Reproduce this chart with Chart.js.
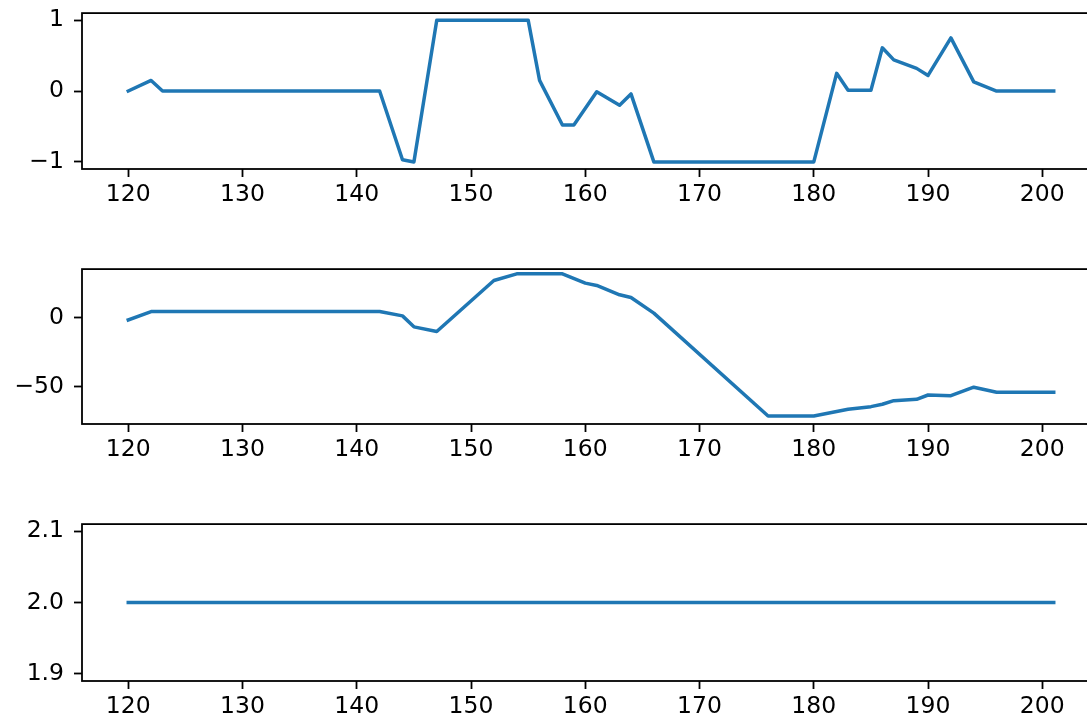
<!DOCTYPE html>
<html>
<head>
<meta charset="utf-8">
<script src="https://cdn.jsdelivr.net/npm/chart.js@4"></script>
<style>
  html, body { margin: 0; padding: 0; background: #fff; overflow: hidden; }
  body { width: 1087px; height: 721px; position: relative; }
  canvas { position: absolute; left: 0; }
</style>
</head>
<body>
<canvas id="c1" width="1100" height="230" style="top:-11px"></canvas>
<canvas id="c2" width="1100" height="229" style="top:245px"></canvas>
<canvas id="c3" width="1100" height="221" style="top:500px"></canvas>
<script>
// shared x ticks
const xTicks = [120, 130, 140, 150, 160, 170, 180, 190, 200];

// panel 1
const topX = [120, 122, 123, 142, 144, 145, 147, 155, 156, 158, 159, 161, 163, 164, 166, 180, 182, 183, 185, 186, 187, 189, 190, 192, 194, 196, 201];
const topY = [0, 0.15, 0, 0, -0.97, -1, 1, 1, 0.15, -0.48, -0.48, -0.01, -0.2, -0.04, -1, -1, 0.25, 0.01, 0.01, 0.61, 0.44, 0.32, 0.22, 0.75, 0.13, 0, 0];
const topTicks = [-1, 0, 1];

// panel 2
const midX = [120, 122, 142, 144, 145, 147, 152, 154, 158, 160, 161, 163, 164, 166, 176, 180, 183, 185, 186, 187, 189, 190, 192, 194, 196, 201];
const midY = [-1.7, 4.3, 4.3, 1.2, -6.7, -10.1, 26.7, 31.5, 31.5, 24.8, 23.1, 16.4, 14.4, 3.2, -70.9, -70.9, -66.1, -64.2, -62.5, -59.9, -58.9, -55.8, -56.3, -50.2, -53.8, -53.8];
const midTicks = [-50, 0];

// panel 3
const botX = [120, 201];
const botY = [2, 2];
const botTicks = [1.9, 2.0, 2.1];

const FONT = { family: "'DejaVu Sans'", size: 23.5 };

const frame = {
    id: "frame",
    afterDraw(chart) {
        const a = chart.chartArea;
        const c = chart.ctx;
        c.save();
        c.strokeStyle = "#000";
        c.lineWidth = 1.8;
        c.strokeRect(a.left, a.top, a.right - a.left + 20, a.bottom - a.top);
        c.restore();
    },
};

function fmt(v, digits) {
    return v.toFixed(digits).replace("-", "\u2212");
}

function drawPanel(id, xs, ys, yMin, yMax, yTicks, digits, xAxisHeight) {
    new Chart(document.getElementById(id), {
        type: "line",
        data: {
            datasets: [
                {
                    data: xs.map((x, i) => ({ x: x, y: ys[i] })),
                    borderColor: "#1f77b4",
                    borderWidth: 3.5,
                    borderCapStyle: "square",
                    borderJoinStyle: "round",
                    pointRadius: 0,
                    tension: 0,
                },
            ],
        },
        options: {
            responsive: false,
            animation: false,
            layout: { padding: { top: 13, left: 0, right: 0, bottom: 0 } },
            plugins: { legend: { display: false }, tooltip: { enabled: false } },
            scales: {
                x: {
                    type: "linear",
                    min: 115.95,
                    max: 205.05,
                    afterBuildTicks: (s) => { s.ticks = xTicks.map((v) => ({ value: v })); },
                    afterFit: (s) => { s.height = xAxisHeight; },
                    border: { display: false },
                    grid: { drawOnChartArea: false, drawTicks: true, tickLength: 8, tickWidth: 1.8, tickColor: "#000" },
                    ticks: { autoSkip: false, maxRotation: 0, color: "#000", font: FONT, padding: 4, callback: (v) => String(v) },
                },
                y: {
                    type: "linear",
                    min: yMin,
                    max: yMax,
                    afterBuildTicks: (s) => { s.ticks = yTicks.map((v) => ({ value: v })); },
                    afterFit: (s) => { s.width = 82; },
                    border: { display: false },
                    grid: { drawOnChartArea: false, drawTicks: true, tickLength: 8, tickWidth: 1.8, tickColor: "#000" },
                    ticks: { color: "#000", font: FONT, padding: 10, callback: (v) => fmt(v, digits) },
                },
            },
        },
        plugins: [frame],
    });
}

drawPanel("c1", topX, topY, -1.1, 1.1, topTicks, 0, 50);
drawPanel("c2", midX, midY, -76.7, 34.9, midTicks, 0, 50);
drawPanel("c3", botX, botY, 1.89, 2.11, botTicks, 1, 40);
</script>
</body>
</html>
